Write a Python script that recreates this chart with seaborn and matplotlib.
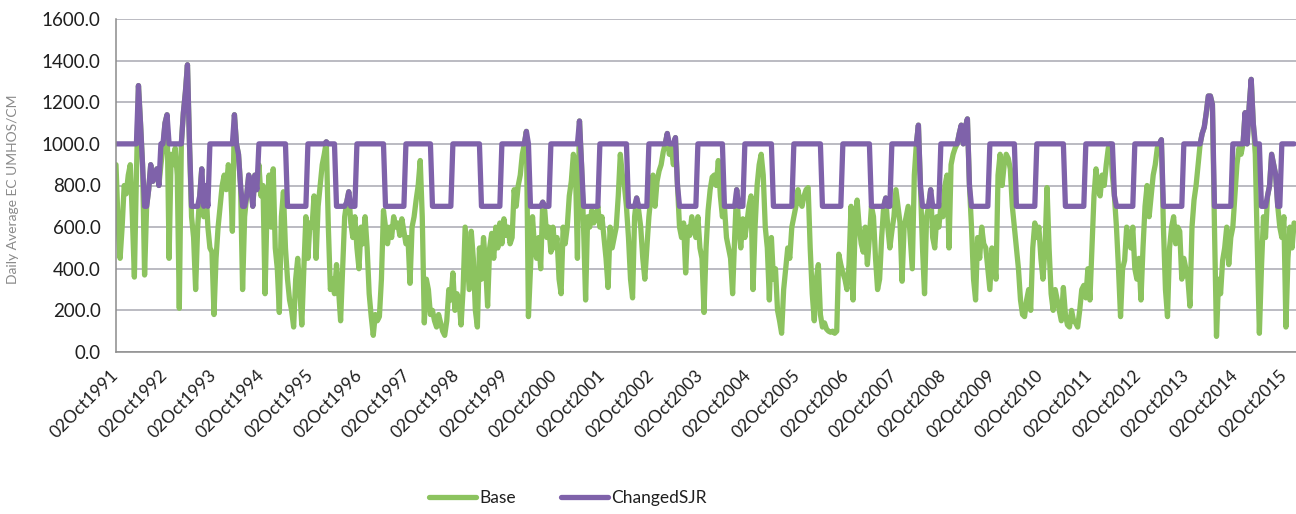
import numpy as np
import pandas as pd
import matplotlib
matplotlib.use("Agg")
import matplotlib.pyplot as plt
import seaborn as sns

# ---- Base EC (umhos/cm) at ~15.3-day steps, by water year ----
wy1992 = [900, 620, 450, 600, 800, 760, 850, 900, 650, 360, 850, 1280, 1100, 900, 370, 700, 780, 900, 820, 850, 880, 800, 900, 980]
wy1993 = [1100, 1140, 450, 950, 900, 980, 850, 210, 1000, 1150, 1250, 1380, 1000, 650, 550, 300, 600, 750, 880, 650, 800, 600, 500, 480]
wy1994 = [180, 450, 600, 700, 800, 850, 780, 900, 850, 580, 1140, 1000, 950, 800, 300, 650, 750, 850, 800, 700, 850, 780, 900, 750]
wy1995 = [800, 280, 700, 850, 600, 880, 500, 400, 190, 650, 770, 500, 350, 250, 200, 120, 350, 450, 300, 130, 400, 650, 450, 620]
wy1996 = [600, 750, 450, 700, 800, 900, 950, 1010, 600, 300, 350, 280, 420, 300, 150, 400, 650, 720, 770, 620, 550, 650, 500, 400]
wy1997 = [600, 520, 650, 500, 280, 170, 80, 180, 150, 170, 350, 680, 600, 520, 600, 550, 650, 600, 620, 560, 640, 580, 520, 550]
wy1998 = [330, 600, 650, 730, 800, 920, 650, 140, 350, 300, 180, 200, 150, 120, 180, 140, 100, 80, 150, 300, 250, 380, 200, 280]
wy1999 = [250, 130, 300, 600, 450, 300, 580, 450, 200, 120, 500, 350, 550, 420, 220, 500, 570, 450, 600, 500, 620, 520, 640, 560]
wy2000 = [600, 520, 550, 780, 700, 800, 850, 950, 1000, 1060, 170, 400, 650, 500, 450, 550, 400, 720, 680, 550, 600, 480, 600, 500]
wy2001 = [550, 350, 280, 600, 520, 600, 750, 820, 950, 900, 450, 1110, 900, 600, 250, 650, 600, 680, 620, 650, 700, 600, 650, 550]
wy2002 = [450, 310, 600, 500, 550, 600, 750, 950, 850, 800, 700, 550, 350, 260, 650, 740, 680, 600, 450, 350, 500, 650, 750, 850]
wy2003 = [700, 820, 870, 900, 960, 1000, 1050, 950, 980, 900, 1030, 800, 600, 550, 620, 380, 600, 560, 650, 600, 550, 650, 500, 450]
wy2004 = [190, 500, 680, 780, 840, 850, 800, 920, 750, 650, 700, 550, 500, 450, 280, 550, 780, 600, 500, 640, 550, 620, 700, 750]
wy2005 = [300, 600, 800, 900, 950, 850, 600, 500, 250, 550, 350, 400, 200, 150, 90, 300, 400, 500, 450, 600, 650, 700, 780, 720]
wy2006 = [700, 750, 780, 790, 500, 280, 150, 350, 420, 180, 120, 140, 110, 100, 95, 100, 90, 100, 470, 420, 380, 350, 300, 420]
wy2007 = [700, 250, 600, 730, 600, 520, 480, 600, 420, 550, 700, 650, 450, 300, 350, 550, 700, 740, 600, 500, 580, 650, 780, 700]
wy2008 = [620, 340, 600, 650, 700, 550, 400, 850, 1000, 1090, 800, 500, 280, 650, 700, 780, 550, 500, 650, 600, 700, 650, 800, 850]
wy2009 = [500, 900, 950, 980, 1000, 1050, 1090, 1000, 1080, 1120, 800, 600, 350, 250, 550, 450, 600, 520, 500, 400, 300, 500, 450, 350]
wy2010 = [850, 950, 800, 900, 950, 930, 880, 700, 600, 500, 400, 250, 180, 170, 250, 300, 200, 500, 620, 550, 600, 450, 350, 500]
wy2011 = [790, 500, 280, 200, 300, 250, 200, 150, 310, 180, 130, 120, 200, 150, 140, 120, 200, 300, 320, 260, 400, 250, 500, 750]
wy2012 = [880, 780, 750, 850, 800, 900, 980, 1000, 850, 750, 600, 400, 170, 400, 440, 600, 550, 500, 600, 400, 350, 450, 250, 500]
wy2013 = [700, 800, 650, 750, 850, 900, 980, 1000, 1020, 600, 300, 170, 500, 600, 650, 520, 600, 580, 350, 450]
wy2014 = [400, 350, 220, 600, 730, 800, 900, 1000, 1050, 1080, 1150, 1230, 1230, 1190, 600, 75, 350, 280, 440, 500, 600, 420, 550]
wy2015_on = [600, 750, 900, 980, 950, 1000, 1150, 1000, 1180, 1310, 1100, 950, 500, 90, 400, 650, 550, 750, 800, 950,
             900, 850, 700, 600, 550, 650, 120, 450, 600, 500, 620]

# San Joaquin (Vernalis) salinity objective by calendar month, Jan..Dec
objective_by_month = [1000, 1000, 1000, 700, 700, 700, 700, 700, 1000, 1000, 1000, 1000]

series_names = ["Base", "ChangedSJR"]
start_date = pd.Timestamp("1991-10-02")
sample_step_days = 15.32
axis_span_days = 8854
tick_years = list(range(1991, 2016))
y_ticks = [0, 200, 400, 600, 800, 1000, 1200, 1400, 1600]

colors = {"Base": "#8CC35F", "ChangedSJR": "#7F62AA"}

# ---- assemble ----
base = np.array(wy1992 + wy1993 + wy1994 + wy1995 + wy1996 + wy1997 + wy1998 + wy1999 + wy2000 +
                wy2001 + wy2002 + wy2003 + wy2004 + wy2005 + wy2006 + wy2007 + wy2008 + wy2009 +
                wy2010 + wy2011 + wy2012 + wy2013 + wy2014 + wy2015_on, dtype=float)
n = len(base)
dates = start_date + pd.to_timedelta(np.arange(n) * sample_step_days, unit="D")
objective = np.array([objective_by_month[m - 1] for m in dates.month], dtype=float)
changed = np.maximum(base, objective)

df = pd.DataFrame({
    "Date": np.concatenate([dates.values, dates.values]),
    "EC": np.concatenate([base, changed]),
    "Series": [series_names[0]] * n + [series_names[1]] * n,
})

sns.set_theme(style="white")
plt.rcParams["font.family"] = ["Lato", "DejaVu Sans"]

W, H = 1296, 514
fig = plt.figure(figsize=(W / 100, H / 100), dpi=100)
ax = fig.add_axes([116 / W, 1 - 352 / H, 1 - 116 / W, (352 - 19) / H])

sns.lineplot(data=df, x="Date", y="EC", hue="Series", hue_order=series_names,
             palette=colors, linewidth=3.8, estimator=None, sort=False, ax=ax)

ax.set_xlim(start_date, start_date + pd.Timedelta(days=axis_span_days))
ax.set_ylim(0, 1600)

tick_dates = [pd.Timestamp(f"{y}-10-02") for y in tick_years]
ax.set_xticks(tick_dates)
ax.set_xticklabels([d.strftime("%d%b%Y") for d in tick_dates], rotation=45,
                   ha="right", va="center", rotation_mode="anchor", fontsize=12.5, color="#1F1F1F")
ax.set_yticks(y_ticks)
ax.set_yticklabels([f"{v:.1f}" for v in y_ticks], fontsize=13.5, color="#1F1F1F")

ax.tick_params(axis="x", direction="out", length=5, width=1, color="#8C8C8C", pad=10)
ax.tick_params(axis="y", direction="out", length=6, width=1, color="#8C8C8C", pad=5)

ax.yaxis.grid(True, color="#A8A8B2", linewidth=1.1)
ax.xaxis.grid(False)
ax.set_axisbelow(True)
for side in ["top", "right"]:
    ax.spines[side].set_visible(False)
for side in ["left", "bottom"]:
    ax.spines[side].set_color("#8C8C8C")
    ax.spines[side].set_linewidth(1.1)

ax.set_xlabel("")
ax.set_ylabel("Daily Average EC UMHOS/CM", fontsize=10, color="#8A8A8A")
ax.yaxis.set_label_coords(-0.082, 0.49)

handles, labels = ax.get_legend_handles_labels()
if ax.get_legend() is not None:
    ax.get_legend().remove()
leg = fig.legend(handles, labels, loc="center", bbox_to_anchor=(0.438, 0.031), ncol=2,
                 frameon=False, fontsize=12.5, handlelength=2.7, handletextpad=0.2,
                 columnspacing=2.6)
for t in leg.get_texts():
    t.set_color("#1F1F1F")

fig.savefig("out.png", dpi=100)
